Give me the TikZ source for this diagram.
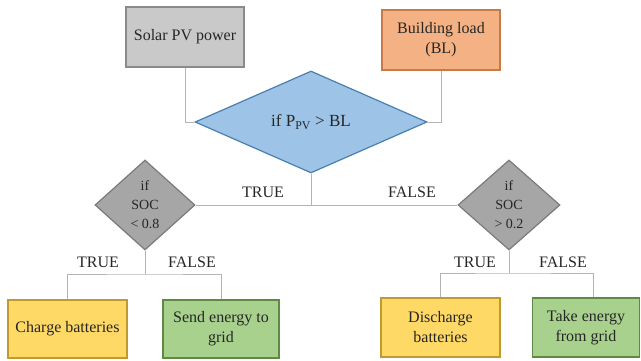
\documentclass[tikz,border=0pt]{standalone}
\usepackage{fontspec}
\setmainfont{Liberation Serif}
\usetikzlibrary{shapes.geometric}
\definecolor{txt}{HTML}{262626}
\definecolor{line}{HTML}{B4B4B4}
\definecolor{grayfill}{HTML}{C9C9C9}
\definecolor{graydraw}{HTML}{8A8A8A}
\definecolor{orangefill}{HTML}{F4B183}
\definecolor{orangedraw}{HTML}{C87A48}
\definecolor{bluefill}{HTML}{9DC3E6}
\definecolor{bluedraw}{HTML}{4A7FB0}
\definecolor{dgrayfill}{HTML}{A6A6A6}
\definecolor{dgraydraw}{HTML}{7A7A7A}
\definecolor{yellowfill}{HTML}{FFD966}
\definecolor{yellowdraw}{HTML}{C09A30}
\definecolor{greenfill}{HTML}{A9D18E}
\definecolor{greendraw}{HTML}{5E8A45}
\begin{document}
\begin{tikzpicture}[x=1pt,y=-1pt,
  every node/.style={text=txt, font=\fontsize{16}{20}\selectfont},
  box/.style={rectangle, draw, line width=1.2pt, align=center, inner sep=2pt},
  dia/.style={diamond, draw, line width=1.2pt, align=center, inner sep=0pt},
  conn/.style={draw=line, line width=0.9pt},
  lbl/.style={inner sep=0pt}]
\useasboundingbox (0,0) rectangle (641,361);

\node[box, fill=grayfill, draw=graydraw, minimum width=118pt, minimum height=60pt] (solar) at (185,37) {Solar PV power};
\node[box, fill=orangefill, draw=orangedraw, minimum width=118pt, minimum height=60pt] (building) at (441,40) {Building load\\(BL)};
\node[dia, fill=bluefill, draw=bluedraw, minimum width=232pt, minimum height=102pt, font=\fontsize{17}{20}\selectfont] (main) at (311,122) {if P\textsubscript{PV} > BL};
\node[dia, fill=dgrayfill, draw=dgraydraw, minimum width=100pt, minimum height=90pt, font=\fontsize{14}{19}\selectfont] (left) at (145,205) {if\\SOC\\< 0.8};
\node[dia, fill=dgrayfill, draw=dgraydraw, minimum width=102pt, minimum height=90pt, font=\fontsize{14}{19}\selectfont] (right) at (509,205) {if\\SOC\\> 0.2};
\node[box, fill=yellowfill, draw=yellowdraw, minimum width=119pt, minimum height=58pt] (charge) at (67.5,329) {Charge batteries};
\node[box, fill=greenfill, draw=greendraw, minimum width=116pt, minimum height=58pt] (send) at (221,329) {Send energy to\\grid};
\node[box, fill=yellowfill, draw=yellowdraw, minimum width=119pt, minimum height=59pt] (discharge) at (440.5,327.5) {Discharge\\batteries};
\node[box, fill=greenfill, draw=greendraw, minimum width=107pt, minimum height=59pt] (take) at (586,327.5) {Take energy\\from grid};

\coordinate (junc) at (311,205);
\coordinate (lbus) at (145,274);
\coordinate (rbus) at (509,273);

\draw[conn] (solar.south) |- (main.west);
\draw[conn] (building.south) |- (main.east);
\draw[conn] (main.south) -- (junc);
\draw[conn] (left.east) -- (right.west);
\draw[conn] (left.south) -- (lbus);
\draw[conn] (charge.north) |- (lbus) -| (send.north);
\draw[conn] (right.south) -- (rbus);
\draw[conn] (discharge.north) |- (rbus) -| ([xshift=7pt]take.north);

\node[lbl] (t1) at (263,192) {TRUE};
\node[lbl] (f1) at (412,192) {FALSE};
\node[lbl] (t2) at (98,262) {TRUE};
\node[lbl] (f2) at (192,262) {FALSE};
\node[lbl] (t3) at (475,262) {TRUE};
\node[lbl] (f3) at (563,262) {FALSE};
\end{tikzpicture}
\end{document}
